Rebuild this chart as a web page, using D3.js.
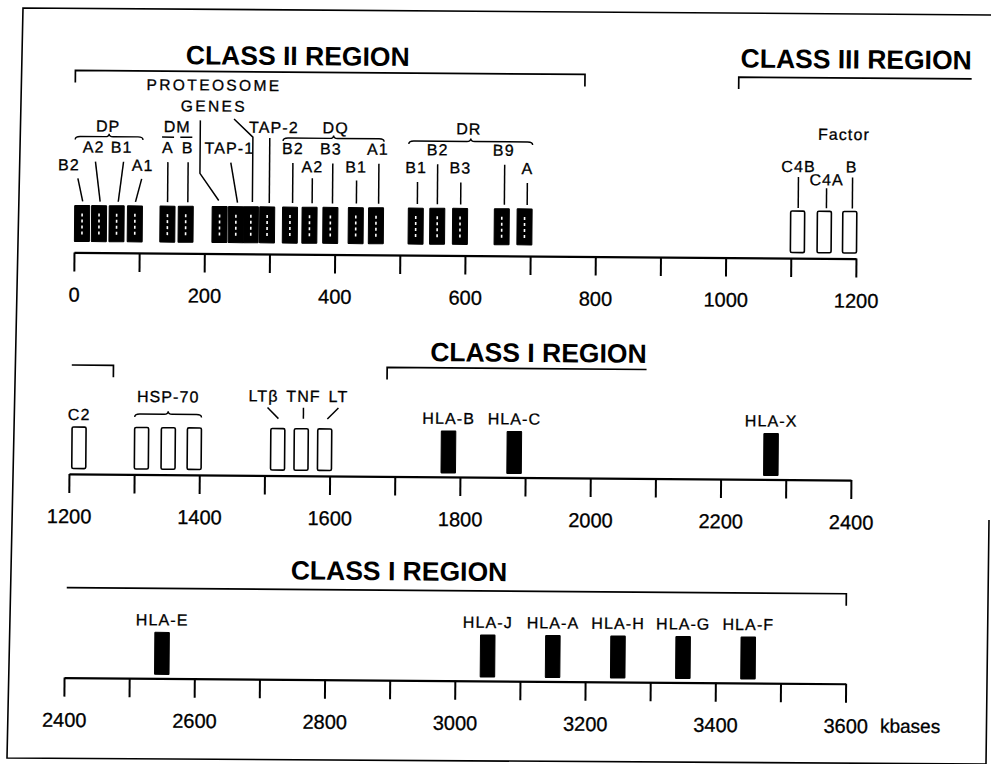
<!DOCTYPE html>
<html><head><meta charset="utf-8">
<script src="https://cdn.jsdelivr.net/npm/d3@7"></script>
<style>
html,body{margin:0;padding:0;background:#fff;}
svg{display:block;}
text{font-family:"Liberation Sans",Arial,Helvetica,sans-serif;fill:#000;}
</style></head><body>
<svg id="map" width="991" height="764"></svg>
<script>
// Physical map of the human MHC (HLA) region, positions in kilobases
const rowDomains = [[0, 1200], [1200, 2400], [2400, 3600]];
const tickStep = 100;
const tickLabelStep = 200;
const unitLabel = "kbases";

const geneNames = ["DPB2","DPA2","DPB1","DPA1","DMA","DMB","LMP2","TAP1","LMP7","TAP2",
  "DQB2","DQA2","DQB3","DQB1","DQA1","DRB1","DRB2","DRB3","DRB9","DRA",
  "C4B","C4A","BF","C2","HSP70-1","HSP70-2","HSP70-HOM","LTB","TNF","LTA",
  "HLA-B","HLA-C","HLA-X","HLA-E","HLA-J","HLA-A","HLA-H","HLA-G","HLA-F"];
const geneLabels = ["B2","A2","B1","A1","A","B","","TAP-1","","TAP-2",
  "B2","A2","B3","B1","A1","B1","B2","B3","B9","A",
  "C4B","C4A","Factor\nB","C2","","","","LTβ","TNF","LT",
  "HLA-B","HLA-C","HLA-X","HLA-E","HLA-J","HLA-A","HLA-H","HLA-G","HLA-F"];
const geneKb = [12,38,65,93,143,171,223,248,271,296,
  331,361,393,432,463,524,557,592,656,691,
  1110,1151,1190,1215,1311,1352,1392,1520,1556,1592,
  1782,1883,2277,2550,3050,3150,3250,3350,3450];
const geneClass = ["II","II","II","II","II","II","II","II","II","II",
  "II","II","II","II","II","II","II","II","II","II",
  "III","III","III","III","III","III","III","III","III","III",
  "I","I","I","I","I","I","I","I","I"];
const geneGroup = ["DP","DP","DP","DP","DM","DM","PROTEOSOME\nGENES","","PROTEOSOME\nGENES","",
  "DQ","DQ","DQ","DQ","DQ","DR","DR","DR","DR","DR",
  "","","","","HSP-70","HSP-70","HSP-70","","","",
  "","","","","","","","",""];

const regionNames = ["CLASS II REGION", "CLASS III REGION", "CLASS I REGION"];
const regionStartKb = [0, 1018, 1687];
const regionEndKb = [782, 1267, 3600];

// ---------- layout ----------
const W = 991, H = 764;
const rowRanges = [[73, 855], [69.7, 851.7], [66.4, 848]];
const axisY = [255.7, 477.3, 681];
const tilt = 0.45;

const boxGeom = { "II": {top: -47, bot: -11, w: 15, fill: "#000"},
                  "III": {top: -47, bot: -5.5, w: 14, fill: "#fff"},
                  "I": {top: -46, bot: -4, w: 14.5, fill: "#000"} };

// label baseline (relative to axis), label x offset, leader polyline
const labelLayout = {
  DPB2: {y: -82, dx: -13.5, lead: [[-4.5,-74],[0.5,-51]]},
  DPA2: {y: -100, dx: -6, lead: [[-4,-91],[1,-51]]},
  DPB1: {y: -100, dx: 4.5, lead: [[6.5,-91],[1.5,-51]]},
  DPA1: {y: -82, dx: 7.5, lead: [[6.5,-74],[0.5,-51]]},
  DMA: {y: -100, dx: 0, lead: [[0,-91],[0,-51]]},
  DMB: {y: -100, dx: 1.5, lead: [[2,-91],[2,-51]]},
  LMP2: {lead: [[-20,-133],[-20,-80],[-1,-53]]},
  TAP1: {y: -100, dx: -7, lead: [[-5.5,-91],[1.5,-51]]},
  LMP7: {lead: [[-17.6,-134.7],[1.4,-116.7],[1.4,-51.7]]},
  TAP2: {y: -121, dx: 6, lead: [[2,-116],[2,-51]]},
  DQB2: {y: -100, dx: 2.5, lead: [[2.5,-91],[2.5,-51]]},
  DQA2: {y: -82, dx: 2.5, lead: [[2.5,-76],[2.5,-51]]},
  DQB3: {y: -100, dx: 0, lead: [[2,-91],[2,-51]]},
  DQB1: {y: -82, dx: 0, lead: [[0.5,-74],[0.5,-51]]},
  DQA1: {y: -100, dx: 1.5, lead: [[2.5,-91],[2.5,-51]]},
  DRB1: {y: -82, dx: 0, lead: [[1.5,-73],[1.5,-51]]},
  DRB2: {y: -100, dx: 0, lead: [[0,-91],[0,-51]]},
  DRB3: {y: -82, dx: 0, lead: [[0.5,-73],[0.5,-51]]},
  DRB9: {y: -100, dx: 1.5, lead: [[2.5,-91],[2.5,-51]]},
  DRA: {y: -82, dx: 2.5, lead: [[2.5,-73],[2.5,-51]]},
  C4B: {y: -86, dx: 0.5, lead: [[0.5,-81],[0.5,-50]]},
  C4A: {y: -73, dx: 2, lead: [[2,-70],[2,-50]]},
  BF: {y: -86, dx: 1.5, lineGap: 32.5, lineDx: [-8, 0], lead: [[2.5,-81],[2.5,-50]]},
  C2: {y: -54, dx: 0},
  LTB: {y: -74, dx: -14.5, lead: [[-10.5,-68],[0.5,-57]]},
  TNF: {y: -74, dx: 2, lead: [[2,-68],[2,-57]]},
  LTA: {y: -74, dx: 13.5, lead: [[13.5,-68],[2.5,-57]]}
};
const hlaLabelY = -53;

// group labels: brace height and label baseline relative to axis
const groupLayout = {
  "DP": {brace: -116, y: -121, dx: -1},
  "DM": {brace: -116, y: -121, split: true},
  "DQ": {brace: -116, y: -121, dx: 2},
  "DR": {brace: -114, y: -121, dx: -2},
  "HSP-70": {brace: -60.5, y: -72.5, dx: 0},
  "PROTEOSOME\nGENES": {y: -163, lineGap: 21, kb: 213}
};

// region titles and brackets per row
const titlePlacement = [
  {region: 0, row: 0, kb: 341, y: -189},
  {region: 1, row: 0, kb: 1198, y: -190},
  {region: 2, row: 1, kb: 1919, y: -115.6},
  {region: 2, row: 2, kb: 2913, y: -100}
];
const bracketY = [[-182, -180.5], [-109, -109], [-90]];
const bracketTick = 12;

const svg = d3.select("#map");
svg.append("rect").attr("width", W).attr("height", H).attr("fill", "#fff");

// outer frame (the right edge only shows in the lower part of the page)
svg.append("path")
  .attr("d", "M1000,15 L23,8 L7,758 L986,764 L989,520")
  .attr("fill", "none").attr("stroke", "#000").attr("stroke-width", 1.6);

const g = svg.append("g").attr("transform", `rotate(${tilt},495,380)`);

const scales = rowDomains.map((d, i) => d3.scaleLinear().domain(d).range(rowRanges[i]));
const rowOf = kb => kb < 1200 ? 0 : (kb < 2400 ? 1 : 2);

// axes
rowDomains.forEach((dom, i) => {
  const axis = d3.axisBottom(scales[i])
    .tickValues(d3.range(dom[0], dom[1] + 1, tickStep))
    .tickSize(19).tickSizeOuter(0).tickPadding(16)
    .tickFormat(d => d % tickLabelStep === 0 ? d : "");
  const ag = g.append("g").attr("transform", `translate(0,${axisY[i]})`).call(axis);
  ag.select(".domain").attr("stroke", "#000").attr("stroke-width", 2.2);
  ag.selectAll(".tick line").attr("stroke", "#000").attr("stroke-width", 2);
  ag.selectAll(".tick text").attr("font-size", 20).attr("fill", "#000")
    .attr("stroke", "#000").attr("stroke-width", 0.3)
    .attr("font-family", "Liberation Sans, Arial, sans-serif");
  ag.attr("font-family", null).attr("font-size", null);
  if (i === 2) {
    ag.append("text").attr("x", scales[i](dom[1]) + 34.7).attr("y", 35).attr("dy", "0.71em")
      .attr("font-size", 19).attr("text-anchor", "start").attr("fill", "#000")
      .attr("stroke", "#000").attr("stroke-width", 0.3)
      .attr("font-family", "Liberation Sans, Arial, sans-serif").text(unitLabel);
  }
});

// genes
const genes = geneNames.map((n, i) => ({name: n, label: geneLabels[i], kb: geneKb[i],
  cls: geneClass[i], group: geneGroup[i], row: rowOf(geneKb[i])}));
genes.forEach(d => { d.x = scales[d.row](d.kb); d.ay = axisY[d.row]; });

const boxes = g.append("g");
genes.forEach(d => {
  const b = boxGeom[d.cls];
  boxes.append("rect")
    .attr("x", d.x - b.w / 2).attr("y", d.ay + b.top)
    .attr("width", b.w).attr("height", b.bot - b.top)
    .attr("rx", d.cls === "III" ? 1.5 : 0.5)
    .attr("fill", b.fill).attr("stroke", "#000").attr("stroke-width", d.cls === "III" ? 1.6 : 1);
  if (d.cls === "II") {
    boxes.append("line")
      .attr("x1", d.x).attr("x2", d.x)
      .attr("y1", d.ay + b.top + 8).attr("y2", d.ay + b.bot - 6)
      .attr("stroke", "#fff").attr("stroke-width", 1.6)
      .attr("stroke-dasharray", "3,3");
  }
});

// gene labels and leader lines
const lab = g.append("g").attr("font-size", 16).attr("letter-spacing", "1.1px")
  .attr("text-anchor", "middle");
const line = d3.line();
genes.forEach(d => {
  const L = labelLayout[d.name] || (d.cls === "I" ? {y: hlaLabelY, dx: 0} : null);
  if (!L) return;
  if (L.lead) {
    lab.append("path")
      .attr("d", line(L.lead.map(p => [d.x + p[0], d.ay + p[1]])))
      .attr("fill", "none").attr("stroke", "#000").attr("stroke-width", 1.5);
  }
  if (d.label && L.y !== undefined) {
    const lines = d.label.split("\n");
    lines.forEach((t, k) => {
      const up = lines.length - 1 - k;
      lab.append("text")
        .attr("x", d.x + L.dx + (L.lineDx ? L.lineDx[k] : 0))
        .attr("y", d.ay + L.y - up * (L.lineGap || 0))
        .attr("stroke", "#000").attr("stroke-width", 0.3)
        .text(t);
    });
  }
});

// group braces and labels
function bracePath(x0, x1, y) {
  const xm = (x0 + x1) / 2;
  return `M${x0},${y + 3} Q${x0},${y} ${x0 + 5},${y} L${xm - 4},${y} Q${xm},${y} ${xm},${y - 3}` +
         ` Q${xm},${y} ${xm + 4},${y} L${x1 - 5},${y} Q${x1},${y} ${x1},${y + 3}`;
}
const groups = Array.from(d3.group(genes.filter(d => d.group), d => d.group));
groups.forEach(([name, members]) => {
  const GL = groupLayout[name];
  const ay = members[0].ay;
  const x0 = d3.min(members, d => d.x - boxGeom[d.cls].w / 2);
  const x1 = d3.max(members, d => d.x + boxGeom[d.cls].w / 2);
  if (GL.lineGap) {
    const xs = scales[members[0].row](GL.kb);
    name.split("\n").forEach((t, k) => {
      lab.append("text").attr("x", xs).attr("y", ay + GL.y + k * GL.lineGap)
        .attr("font-size", 15.5).attr("letter-spacing", "2.4px")
        .attr("stroke", "#000").attr("stroke-width", 0.3).text(t);
    });
    return;
  }
  if (GL.split) {
    members.forEach(m => {
      const w = boxGeom[m.cls].w;
      lab.append("line").attr("x1", m.x - w / 2 + 1.5).attr("x2", m.x + w / 2 - 1.5)
        .attr("y1", ay + GL.brace).attr("y2", ay + GL.brace)
        .attr("stroke", "#000").attr("stroke-width", 1.5);
    });
  } else {
    lab.append("path").attr("d", bracePath(x0, x1, ay + GL.brace))
      .attr("fill", "none").attr("stroke", "#000").attr("stroke-width", 1.4);
  }
  lab.append("text").attr("x", (x0 + x1) / 2 + (GL.dx || 0)).attr("y", ay + GL.y)
    .attr("stroke", "#000").attr("stroke-width", 0.3).text(name);
});

// region titles
const titles = titlePlacement.map(t => {
  const el = g.append("text")
    .attr("x", scales[t.row](t.kb)).attr("y", axisY[t.row] + t.y)
    .attr("text-anchor", "middle").attr("font-size", 26.5).attr("font-weight", "bold")
    .text(regionNames[t.region]);
  return el;
});

// region brackets, split across rows
const br = g.append("g").attr("fill", "none").attr("stroke", "#000").attr("stroke-width", 1.7);
regionNames.forEach((name, r) => {
  const s = regionStartKb[r], e = regionEndKb[r];
  const r0 = rowOf(s), r1 = rowOf(e - 0.001);
  for (let row = r0; row <= r1; row++) {
    const yi = (row === 0 && r === 1) ? 1 : 0;
    const y = axisY[row] + bracketY[row][Math.min(yi, bracketY[row].length - 1)];
    const startHere = row === r0, endHere = row === r1;
    let xa = startHere ? scales[row](s) : scales[row](rowDomains[row][0]) + 2;
    let xb;
    if (endHere) xb = scales[row](e);
    else {
      // continue to the far side of the row, or to the end of its title
      const t = titles.find((el, k) => titlePlacement[k].region === r && titlePlacement[k].row === row);
      xb = t ? t.node().getBBox().x + t.node().getBBox().width : scales[row](rowDomains[row][1]);
    }
    let d = "";
    if (startHere) d += `M${xa},${y + bracketTick} L${xa},${y} `; else d += `M${xa},${y} `;
    d += `L${xb},${y}`;
    if (endHere) d += ` L${xb},${y + bracketTick}`;
    br.append("path").attr("d", d);
  }
});
</script>
</body></html>
